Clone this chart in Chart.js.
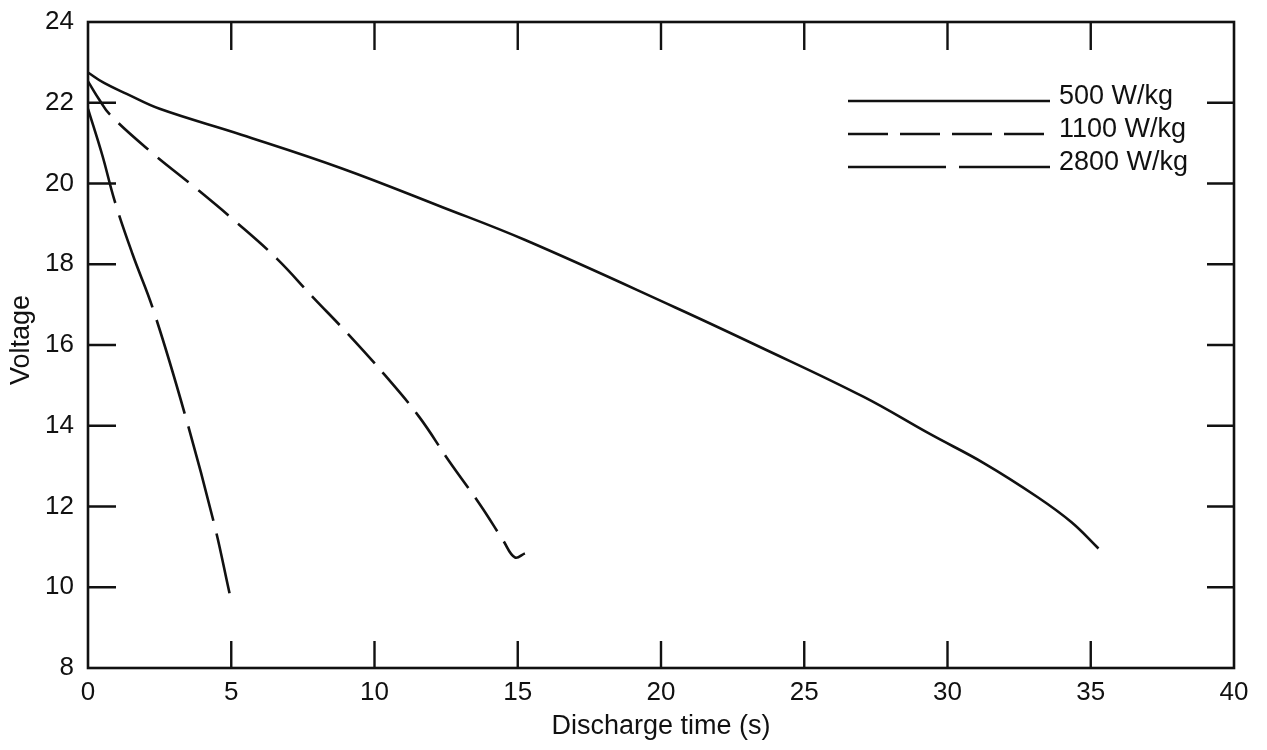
<!DOCTYPE html>
<html><head><meta charset="utf-8">
<script src="https://cdn.jsdelivr.net/npm/chart.js@4.4.1/dist/chart.umd.min.js"></script>
<style>html,body{margin:0;padding:0;background:#fff}#wrap{width:1267px;height:750px}</style>
</head><body><div id="wrap"><canvas id="c" width="1267" height="750"></canvas></div>
<script>
// ---- data ----
const xTicks = [0, 5, 10, 15, 20, 25, 30, 35, 40];
const yTicks = [8, 10, 12, 14, 16, 18, 20, 22, 24];
const seriesNames = ['500 W/kg', '1100 W/kg', '2800 W/kg'];
const xTitle = 'Discharge time (s)';
const yTitle = 'Voltage';

const t500 = [0, 0.56, 1.35, 2.5, 5.35, 8.84, 12.35, 15.26, 20.5, 23.4, 27.06, 29.4, 31.28, 33.15, 34.33, 35.27];
const v500 = [22.75, 22.49, 22.22, 21.85, 21.21, 20.38, 19.42, 18.6, 16.93, 15.97, 14.72, 13.79, 13.07, 12.23, 11.61, 10.96];

const t1100 = [0, 0.39, 0.76, 2.17, 3.65, 5.18, 6.59, 7.83, 9.08, 10.38, 11.56, 12.57, 13.71, 14.49, 14.9, 15.25];
const v1100 = [22.53, 22.08, 21.71, 20.8, 19.95, 19.04, 18.14, 17.2, 16.27, 15.24, 14.22, 13.16, 12.02, 11.16, 10.74, 10.84];

const t2800 = [0, 0.5, 0.93, 1.55, 2.28, 3.4, 4.4, 4.94];
const v2800 = [21.85, 20.7, 19.57, 18.26, 16.87, 14.24, 11.58, 9.85];

const INK = '#111';
const FONT = '"Liberation Sans", Arial, Helvetica, sans-serif';

function pts(t, v) { return t.map((x, i) => ({x: x, y: v[i]})); }

const frameAndTicks = {
  id: 'frameAndTicks',
  afterDatasetsDraw(chart) {
    const {ctx, chartArea: a, scales: {x, y}} = chart;
    ctx.save();
    ctx.strokeStyle = INK;
    ctx.lineWidth = 2.6;
    ctx.setLineDash([]);
    ctx.strokeRect(a.left, a.top, a.right - a.left, a.bottom - a.top);
    ctx.lineWidth = 2.4;
    ctx.beginPath();
    xTicks.forEach(v => {
      if (v === x.min || v === x.max) return;
      const px = x.getPixelForValue(v);
      ctx.moveTo(px, a.bottom); ctx.lineTo(px, a.bottom - 27);
      ctx.moveTo(px, a.top); ctx.lineTo(px, a.top + 28);
    });
    yTicks.forEach(v => {
      if (v === y.min || v === y.max) return;
      const py = y.getPixelForValue(v);
      ctx.moveTo(a.left, py); ctx.lineTo(a.left + 28, py);
      ctx.moveTo(a.right, py); ctx.lineTo(a.right - 27, py);
    });
    ctx.stroke();

    // legend inside plot
    chart.data.datasets.forEach((ds, i) => {
      const yy = a.top + 79 + 33 * i;
      ctx.beginPath();
      ctx.lineWidth = ds.borderWidth;
      ctx.setLineDash(ds.borderDash || []);
      ctx.moveTo(a.right - 386, yy); ctx.lineTo(a.right - 184, yy);
      ctx.stroke();
      ctx.setLineDash([]);
      ctx.fillStyle = INK;
      ctx.font = '27px ' + FONT;
      ctx.textBaseline = 'middle';
      ctx.textAlign = 'left';
      ctx.fillText(ds.label, a.right - 175, yy - 4);
    });

    // y axis title
    ctx.save();
    ctx.translate(22, 340);
    ctx.rotate(-Math.PI / 2);
    ctx.font = '27px ' + FONT;
    ctx.textAlign = 'center';
    ctx.textBaseline = 'middle';
    ctx.fillStyle = INK;
    ctx.fillText(yTitle, 0, 0);
    ctx.restore();
    ctx.restore();
  }
};

new Chart(document.getElementById('c'), {
  type: 'line',
  data: {
    datasets: [
      {label: seriesNames[0], data: pts(t500, v500), borderColor: INK, borderWidth: 2.6, borderDash: []},
      {label: seriesNames[1], data: pts(t1100, v1100), borderColor: INK, borderWidth: 2.6, borderDash: [40, 12]},
      {label: seriesNames[2], data: pts(t2800, v2800), borderColor: INK, borderWidth: 2.6, borderDash: [98, 13]}
    ]
  },
  options: {
    responsive: false,
    animation: false,
    elements: {point: {radius: 0}, line: {tension: 0.4, fill: false}},
    layout: {padding: {top: 22, right: 33, left: 0, bottom: 0}},
    plugins: {legend: {display: false}, tooltip: {enabled: false}},
    scales: {
      x: {
        type: 'linear', min: 0, max: 40,
        afterBuildTicks: s => { s.ticks = xTicks.map(v => ({value: v})); },
        afterFit: s => { s.height = 82; s.paddingLeft = 0; s.paddingRight = 0; },
        grid: {display: false, drawTicks: false},
        border: {display: false},
        ticks: {color: INK, font: {family: FONT, size: 26}, padding: 9, maxRotation: 0},
        title: {display: true, text: xTitle, color: INK, font: {family: FONT, size: 27}, padding: {top: 0, bottom: 7}}
      },
      y: {
        type: 'linear', min: 8, max: 24,
        afterBuildTicks: s => { s.ticks = yTicks.map(v => ({value: v})); },
        afterFit: s => { s.width = 88; s.paddingTop = 0; s.paddingBottom = 0; },
        grid: {display: false, drawTicks: false},
        border: {display: false},
        ticks: {color: INK, font: {family: FONT, size: 26}, padding: 14},
        title: {display: false}
      }
    }
  },
  plugins: [frameAndTicks]
});
</script>
</body></html>
